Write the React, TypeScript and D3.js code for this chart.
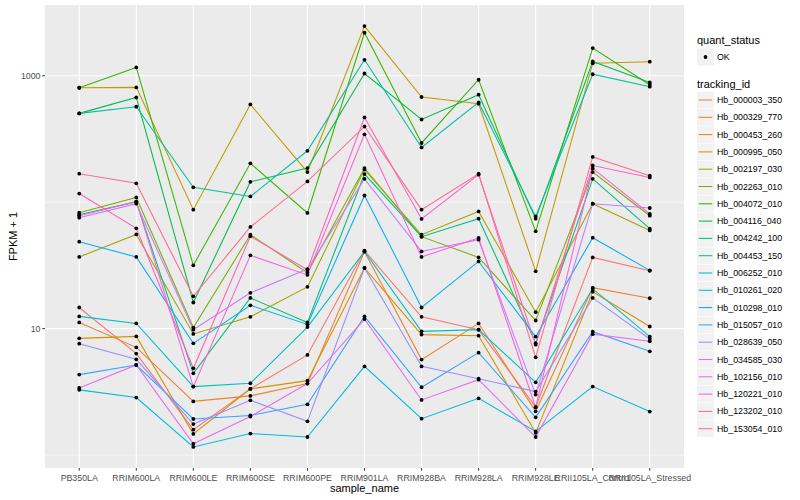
import React from "react";
import * as d3 from "d3";

const samples = [
  "PB350LA", "RRIM600LA", "RRIM600LE", "RRIM600SE", "RRIM600PE", "RRIM901LA",
  "RRIM928BA", "RRIM928LA", "RRIM928LE", "RRII105LA_Control", "RRII105LA_Stressed",
];

const trackingIds = [
  "Hb_000003_350", "Hb_000329_770", "Hb_000453_260", "Hb_000995_050", "Hb_002197_030",
  "Hb_002263_010", "Hb_004072_010", "Hb_004116_040", "Hb_004242_100", "Hb_004453_150",
  "Hb_006252_010", "Hb_010261_020", "Hb_010298_010", "Hb_015057_010", "Hb_028639_050",
  "Hb_034585_030", "Hb_102156_010", "Hb_120221_010", "Hb_123202_010", "Hb_153054_010",
];

const palette = [
  "#F8766D", "#EA8331", "#D89000", "#C09B00", "#A3A500", "#7CAE00", "#39B600", "#00BB4E",
  "#00BF7D", "#00C1A3", "#00BFC4", "#00BAE0", "#00B0F6", "#35A2FF", "#9590FF", "#C77CFF",
  "#E76BF3", "#FA62DB", "#FF62BC", "#FF6C91",
];

// FPKM + 1 per sample (same order as samples)
const hb000003 = [14.7, 6.35, 1.59, 3.34, 6.2, 41.4, 12.4, 9.82, 2.4, 36.6, 28.7];
const hb000329 = [11.2, 7.11, 2.66, 2.94, 3.68, 40.6, 5.69, 11.0, 2.22, 21.1, 17.4];
const hb000453 = [8.38, 8.69, 1.47, 3.34, 3.88, 30.2, 8.97, 8.8, 1.5, 19.6, 10.4];
const hb000995 = [804, 809, 87.3, 593, 173, 2472, 679, 601, 28.4, 1256, 1291];
const hb002197 = [36.9, 55.6, 9.08, 12.4, 21.4, 181, 55.3, 84.6, 13.5, 97.3, 59.8];
const hb002263 = [82.6, 109, 10.2, 55.3, 27.7, 186, 53.4, 36.6, 11.6, 173, 78.2];
const hb004072 = [804, 1163, 31.7, 203, 82.2, 2188, 294, 930, 58.8, 1656, 849];
const hb004116 = [504, 674, 16.1, 145, 186, 1042, 451, 708, 74.1, 1298, 885];
const hb004242 = [79.6, 101, 4.43, 17.5, 11.2, 167, 53.4, 74.1, 7.68, 153, 61.8];
const hb004453 = [504, 569, 131, 111, 255, 1337, 271, 615, 77.2, 1028, 819];
const hb006252 = [12.5, 11.0, 3.48, 3.7, 10.3, 40.8, 9.52, 9.82, 3.76, 20.7, 8.64];
const hb010261 = [3.28, 2.85, 1.16, 1.48, 1.39, 5.03, 1.94, 2.81, 1.54, 3.48, 2.21];
const hb010298 = [48.7, 36.9, 7.65, 15.3, 10.8, 113, 14.7, 34.0, 8.64, 52.4, 28.9];
const hb015057 = [4.33, 5.16, 1.93, 2.06, 2.52, 12.5, 3.44, 6.46, 1.99, 9.47, 6.62];
const hb028639 = [7.61, 5.72, 1.76, 2.71, 1.85, 30.2, 5.03, 4.02, 3.18, 17.5, 8.29];
const hb034585 = [75.4, 97.3, 9.82, 19.2, 29.6, 153, 40.8, 50.5, 3.01, 97.3, 90];
const hb102156 = [3.4, 5.16, 1.23, 2.02, 3.68, 11.9, 2.73, 3.95, 1.39, 9.05, 7.94];
const hb120221 = [78.2, 101, 3.48, 38.0, 26.6, 344, 36.9, 52.1, 2.39, 185, 80.7];
const hb123202 = [117, 62.1, 4.86, 53.7, 29.3, 468, 73.7, 165, 7.47, 195, 157];
const hb153054 = [168, 141, 18.0, 63.7, 146, 397, 87.3, 168, 5.93, 228, 162];

const seriesValues = [
  hb000003, hb000329, hb000453, hb000995, hb002197, hb002263, hb004072, hb004116, hb004242, hb004453,
  hb006252, hb010261, hb010298, hb015057, hb028639, hb034585, hb102156, hb120221, hb123202, hb153054,
];

const yMajor = [10, 1000];
const yMinor = [1, 100];

const FONT = "'Liberation Sans', Arial, Helvetica, sans-serif";

export default function App() {
  const W = 800, H = 500;
  const left = 45, right = 684, top = 5, bottom = 468;

  const allLog = seriesValues.flat().map((v) => Math.log10(v));
  const lo = d3.min(allLog)!, hi = d3.max(allLog)!;
  const pad = (hi - lo) * 0.05;
  const y = d3.scaleLog().domain([10 ** (lo - pad), 10 ** (hi + pad)]).range([bottom, top]);
  const x = d3.scalePoint<string>().domain(samples).range([left, right]).padding(0.6);

  const line = d3
    .line<number>()
    .x((_, i) => x(samples[i])!)
    .y((v) => y(v));

  const legendX = 697;
  const keyTop = 92;
  const keyH = 17.3;

  return (
    <svg width={W} height={H} style={{ position: "absolute", left: 0, top: 0, background: "#fff" }} fontFamily={FONT}>
      <rect x={left} y={top} width={right - left} height={bottom - top} fill="#EBEBEB" />
      {yMinor.map((v) => (
        <line key={"mn" + v} x1={left} x2={right} y1={y(v)} y2={y(v)} stroke="#fff" strokeWidth={0.55} />
      ))}
      {yMajor.map((v) => (
        <line key={"mj" + v} x1={left} x2={right} y1={y(v)} y2={y(v)} stroke="#fff" strokeWidth={1.1} />
      ))}
      {samples.map((s) => (
        <line key={"gx" + s} x1={x(s)} x2={x(s)} y1={top} y2={bottom} stroke="#fff" strokeWidth={1.1} />
      ))}
      {seriesValues.map((vals, i) => (
        <path key={"l" + i} d={line(vals)!} fill="none" stroke={palette[i]} strokeWidth={1.07} />
      ))}
      {seriesValues.map((vals, i) =>
        vals.map((v, j) => <circle key={"p" + i + "_" + j} cx={x(samples[j])} cy={y(v)} r={1.9} fill="#000" />)
      )}
      {/* y axis */}
      {yMajor.map((v) => (
        <g key={"yt" + v}>
          <line x1={left - 2.7} x2={left} y1={y(v)} y2={y(v)} stroke="#333" strokeWidth={1} />
          <text x={left - 4.5} y={y(v)} dy="0.35em" textAnchor="end" fontSize={8.8} fill="#4D4D4D">
            {v}
          </text>
        </g>
      ))}
      {/* x axis */}
      {samples.map((s) => (
        <g key={"xt" + s}>
          <line x1={x(s)} x2={x(s)} y1={bottom} y2={bottom + 2.7} stroke="#333" strokeWidth={1} />
          <text x={x(s)} y={bottom + 13} textAnchor="middle" fontSize={8.8} fill="#4D4D4D">
            {s}
          </text>
        </g>
      ))}
      <text x={(left + right) / 2} y={492} textAnchor="middle" fontSize={11} fill="#000">
        sample_name
      </text>
      <text transform={`translate(16.5,${(top + bottom) / 2}) rotate(-90)`} textAnchor="middle" fontSize={11} fill="#000">
        FPKM + 1
      </text>
      {/* legend: quant_status */}
      <text x={legendX} y={44} fontSize={11} fill="#000">quant_status</text>
      <rect x={legendX} y={48.5} width={17} height={17} fill="#F2F2F2" />
      <circle cx={legendX + 8.5} cy={57} r={1.9} fill="#000" />
      <text x={legendX + 20} y={57} dy="0.35em" fontSize={8.8} fill="#000">OK</text>
      {/* legend: tracking_id */}
      <text x={legendX} y={88} fontSize={11} fill="#000">tracking_id</text>
      {trackingIds.map((id, i) => {
        const cy = keyTop + 8 + i * keyH;
        return (
          <g key={"lg" + id}>
            <rect x={legendX} y={cy - 8.3} width={17} height={16.6} fill="#F2F2F2" />
            <line x1={legendX + 1.7} x2={legendX + 15.3} y1={cy} y2={cy} stroke={palette[i]} strokeWidth={1.07} />
            <text x={legendX + 20} y={cy} dy="0.35em" fontSize={8.8} fill="#000">{id}</text>
          </g>
        );
      })}
    </svg>
  );
}
